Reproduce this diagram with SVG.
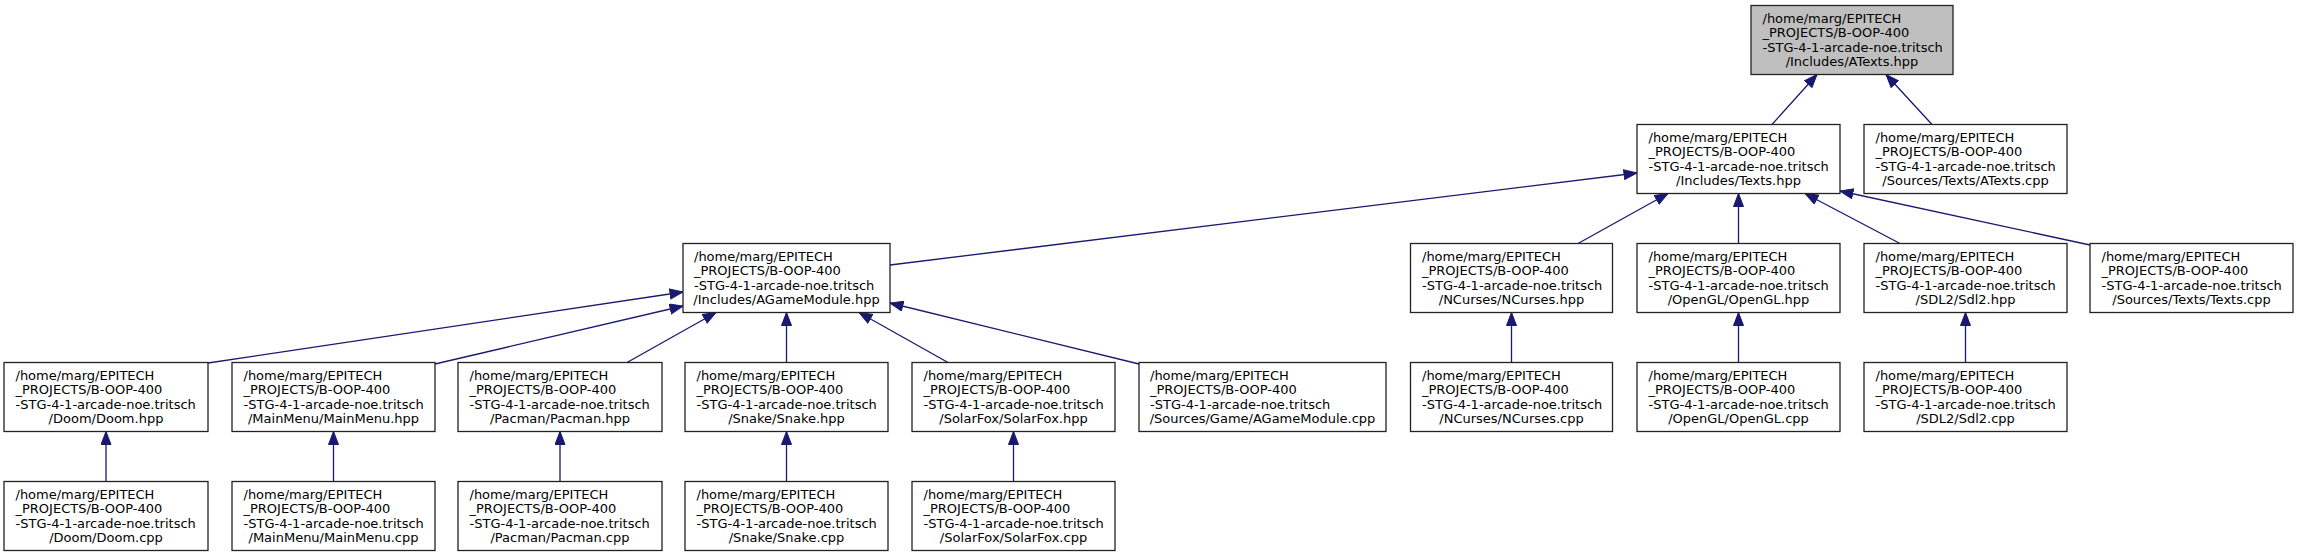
<svg xmlns="http://www.w3.org/2000/svg" width="2299" height="556" viewBox="0 0 2299 556">
<style>
.node rect{fill:#ffffff;stroke:#222222;stroke-width:1.3}
.node rect.root{fill:#bfbfbf}
.node text{font-family:"DejaVu Sans","Liberation Sans",sans-serif;font-size:13px;fill:#000000}
.node text.c{text-anchor:middle}
.edges path{fill:none;stroke:#191970;stroke-width:1.3;marker-end:url(#ah)}
</style>
<defs>
<marker id="ah" markerUnits="userSpaceOnUse" markerWidth="16" markerHeight="12" refX="13.5" refY="5.5" orient="auto" viewBox="0 0 16 12">
<path d="M0.5,0.5 L13.5,5.5 L0.5,10.5 z" fill="#191970" stroke="#191970" stroke-width="1"/>
</marker>
</defs>
<rect x="0" y="0" width="2299" height="556" fill="#ffffff"/>
<g class="edges" id="edges">
<path d="M1772,124.5 L1817,74.5"/>
<path d="M1932,124.5 L1886,74.5"/>
<path d="M890,265 L1637,173"/>
<path d="M1578,243.5 L1668,193.5"/>
<path d="M1738.5,243.5 L1738.5,193.5"/>
<path d="M1900,243.5 L1805,193.5"/>
<path d="M2090,245 L1840,191"/>
<path d="M208,363 L683,292"/>
<path d="M435,364 L683,306"/>
<path d="M627,362.5 L716,312.5"/>
<path d="M786.5,362.5 L786.5,312.5"/>
<path d="M948,362.5 L859,312.5"/>
<path d="M1139,364 L890,303"/>
<path d="M106,481.5 L106,431.5"/>
<path d="M333.5,481.5 L333.5,431.5"/>
<path d="M560,481.5 L560,431.5"/>
<path d="M786.5,481.5 L786.5,431.5"/>
<path d="M1013.5,481.5 L1013.5,431.5"/>
<path d="M1511.5,362.5 L1511.5,312.5"/>
<path d="M1738.5,362.5 L1738.5,312.5"/>
<path d="M1965.5,362.5 L1965.5,312.5"/>
</g>
<g class="node" id="n_atexts_hpp"><rect class="root" x="1751" y="5.5" width="202" height="69"/><text x="1762.5" y="23.2">/home/marg/EPITECH</text><text x="1762.5" y="37.4">_PROJECTS/B-OOP-400</text><text x="1762.5" y="51.6">-STG-4-1-arcade-noe.tritsch</text><text class="c" x="1852" y="65.8">/Includes/ATexts.hpp</text></g>
<g class="node" id="n_texts_hpp"><rect x="1637" y="124.5" width="203" height="69"/><text x="1648.5" y="142.2">/home/marg/EPITECH</text><text x="1648.5" y="156.4">_PROJECTS/B-OOP-400</text><text x="1648.5" y="170.6">-STG-4-1-arcade-noe.tritsch</text><text class="c" x="1738.5" y="184.8">/Includes/Texts.hpp</text></g>
<g class="node" id="n_atexts_cpp"><rect x="1864" y="124.5" width="203" height="69"/><text x="1875.5" y="142.2">/home/marg/EPITECH</text><text x="1875.5" y="156.4">_PROJECTS/B-OOP-400</text><text x="1875.5" y="170.6">-STG-4-1-arcade-noe.tritsch</text><text class="c" x="1965.5" y="184.8">/Sources/Texts/ATexts.cpp</text></g>
<g class="node" id="n_agamemodule_hpp"><rect x="683" y="243.5" width="207" height="69"/><text x="694" y="261.2">/home/marg/EPITECH</text><text x="694" y="275.4">_PROJECTS/B-OOP-400</text><text x="694" y="289.6">-STG-4-1-arcade-noe.tritsch</text><text class="c" x="786.5" y="303.8">/Includes/AGameModule.hpp</text></g>
<g class="node" id="n_ncurses_hpp"><rect x="1410.5" y="243.5" width="202" height="69"/><text x="1422" y="261.2">/home/marg/EPITECH</text><text x="1422" y="275.4">_PROJECTS/B-OOP-400</text><text x="1422" y="289.6">-STG-4-1-arcade-noe.tritsch</text><text class="c" x="1511.5" y="303.8">/NCurses/NCurses.hpp</text></g>
<g class="node" id="n_opengl_hpp"><rect x="1637" y="243.5" width="203" height="69"/><text x="1648.5" y="261.2">/home/marg/EPITECH</text><text x="1648.5" y="275.4">_PROJECTS/B-OOP-400</text><text x="1648.5" y="289.6">-STG-4-1-arcade-noe.tritsch</text><text class="c" x="1738.5" y="303.8">/OpenGL/OpenGL.hpp</text></g>
<g class="node" id="n_sdl2_hpp"><rect x="1864" y="243.5" width="203" height="69"/><text x="1875.5" y="261.2">/home/marg/EPITECH</text><text x="1875.5" y="275.4">_PROJECTS/B-OOP-400</text><text x="1875.5" y="289.6">-STG-4-1-arcade-noe.tritsch</text><text class="c" x="1965.5" y="303.8">/SDL2/Sdl2.hpp</text></g>
<g class="node" id="n_texts_cpp"><rect x="2090" y="243.5" width="203" height="69"/><text x="2101.5" y="261.2">/home/marg/EPITECH</text><text x="2101.5" y="275.4">_PROJECTS/B-OOP-400</text><text x="2101.5" y="289.6">-STG-4-1-arcade-noe.tritsch</text><text class="c" x="2191.5" y="303.8">/Sources/Texts/Texts.cpp</text></g>
<g class="node" id="n_doom_hpp"><rect x="4" y="362.5" width="204" height="69"/><text x="15.5" y="380.2">/home/marg/EPITECH</text><text x="15.5" y="394.4">_PROJECTS/B-OOP-400</text><text x="15.5" y="408.6">-STG-4-1-arcade-noe.tritsch</text><text class="c" x="106" y="422.8">/Doom/Doom.hpp</text></g>
<g class="node" id="n_mainmenu_hpp"><rect x="232" y="362.5" width="203" height="69"/><text x="243.5" y="380.2">/home/marg/EPITECH</text><text x="243.5" y="394.4">_PROJECTS/B-OOP-400</text><text x="243.5" y="408.6">-STG-4-1-arcade-noe.tritsch</text><text class="c" x="333.5" y="422.8">/MainMenu/MainMenu.hpp</text></g>
<g class="node" id="n_pacman_hpp"><rect x="458" y="362.5" width="204" height="69"/><text x="469.5" y="380.2">/home/marg/EPITECH</text><text x="469.5" y="394.4">_PROJECTS/B-OOP-400</text><text x="469.5" y="408.6">-STG-4-1-arcade-noe.tritsch</text><text class="c" x="560" y="422.8">/Pacman/Pacman.hpp</text></g>
<g class="node" id="n_snake_hpp"><rect x="685" y="362.5" width="203" height="69"/><text x="696.5" y="380.2">/home/marg/EPITECH</text><text x="696.5" y="394.4">_PROJECTS/B-OOP-400</text><text x="696.5" y="408.6">-STG-4-1-arcade-noe.tritsch</text><text class="c" x="786.5" y="422.8">/Snake/Snake.hpp</text></g>
<g class="node" id="n_solarfox_hpp"><rect x="912" y="362.5" width="203" height="69"/><text x="923.5" y="380.2">/home/marg/EPITECH</text><text x="923.5" y="394.4">_PROJECTS/B-OOP-400</text><text x="923.5" y="408.6">-STG-4-1-arcade-noe.tritsch</text><text class="c" x="1013.5" y="422.8">/SolarFox/SolarFox.hpp</text></g>
<g class="node" id="n_agamemodule_cpp"><rect x="1139" y="362.5" width="247" height="69"/><text x="1150" y="380.2">/home/marg/EPITECH</text><text x="1150" y="394.4">_PROJECTS/B-OOP-400</text><text x="1150" y="408.6">-STG-4-1-arcade-noe.tritsch</text><text class="c" x="1262.5" y="422.8">/Sources/Game/AGameModule.cpp</text></g>
<g class="node" id="n_ncurses_cpp"><rect x="1410.5" y="362.5" width="202" height="69"/><text x="1422" y="380.2">/home/marg/EPITECH</text><text x="1422" y="394.4">_PROJECTS/B-OOP-400</text><text x="1422" y="408.6">-STG-4-1-arcade-noe.tritsch</text><text class="c" x="1511.5" y="422.8">/NCurses/NCurses.cpp</text></g>
<g class="node" id="n_opengl_cpp"><rect x="1637" y="362.5" width="203" height="69"/><text x="1648.5" y="380.2">/home/marg/EPITECH</text><text x="1648.5" y="394.4">_PROJECTS/B-OOP-400</text><text x="1648.5" y="408.6">-STG-4-1-arcade-noe.tritsch</text><text class="c" x="1738.5" y="422.8">/OpenGL/OpenGL.cpp</text></g>
<g class="node" id="n_sdl2_cpp"><rect x="1864" y="362.5" width="203" height="69"/><text x="1875.5" y="380.2">/home/marg/EPITECH</text><text x="1875.5" y="394.4">_PROJECTS/B-OOP-400</text><text x="1875.5" y="408.6">-STG-4-1-arcade-noe.tritsch</text><text class="c" x="1965.5" y="422.8">/SDL2/Sdl2.cpp</text></g>
<g class="node" id="n_doom_cpp"><rect x="4" y="481.5" width="204" height="69"/><text x="15.5" y="499.2">/home/marg/EPITECH</text><text x="15.5" y="513.4">_PROJECTS/B-OOP-400</text><text x="15.5" y="527.6">-STG-4-1-arcade-noe.tritsch</text><text class="c" x="106" y="541.8">/Doom/Doom.cpp</text></g>
<g class="node" id="n_mainmenu_cpp"><rect x="232" y="481.5" width="203" height="69"/><text x="243.5" y="499.2">/home/marg/EPITECH</text><text x="243.5" y="513.4">_PROJECTS/B-OOP-400</text><text x="243.5" y="527.6">-STG-4-1-arcade-noe.tritsch</text><text class="c" x="333.5" y="541.8">/MainMenu/MainMenu.cpp</text></g>
<g class="node" id="n_pacman_cpp"><rect x="458" y="481.5" width="204" height="69"/><text x="469.5" y="499.2">/home/marg/EPITECH</text><text x="469.5" y="513.4">_PROJECTS/B-OOP-400</text><text x="469.5" y="527.6">-STG-4-1-arcade-noe.tritsch</text><text class="c" x="560" y="541.8">/Pacman/Pacman.cpp</text></g>
<g class="node" id="n_snake_cpp"><rect x="685" y="481.5" width="203" height="69"/><text x="696.5" y="499.2">/home/marg/EPITECH</text><text x="696.5" y="513.4">_PROJECTS/B-OOP-400</text><text x="696.5" y="527.6">-STG-4-1-arcade-noe.tritsch</text><text class="c" x="786.5" y="541.8">/Snake/Snake.cpp</text></g>
<g class="node" id="n_solarfox_cpp"><rect x="912" y="481.5" width="203" height="69"/><text x="923.5" y="499.2">/home/marg/EPITECH</text><text x="923.5" y="513.4">_PROJECTS/B-OOP-400</text><text x="923.5" y="527.6">-STG-4-1-arcade-noe.tritsch</text><text class="c" x="1013.5" y="541.8">/SolarFox/SolarFox.cpp</text></g>
</svg>
